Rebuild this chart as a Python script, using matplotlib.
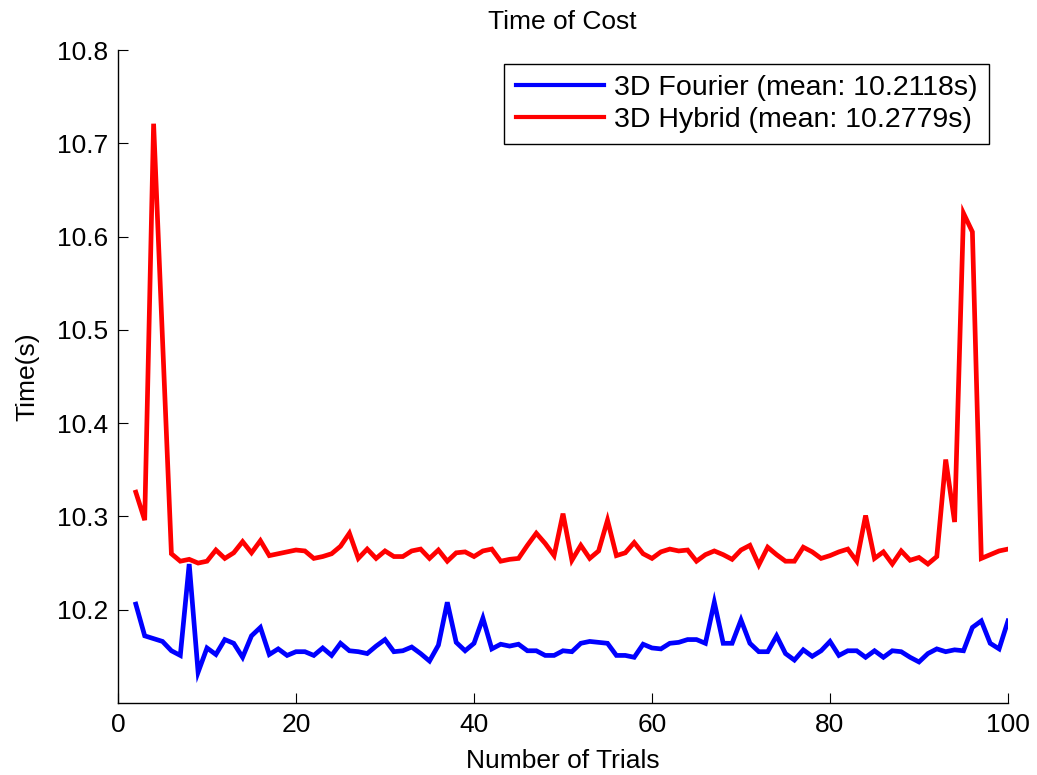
import matplotlib
matplotlib.use("Agg")
import matplotlib.pyplot as plt

plt.rcParams['font.family'] = ['Liberation Sans', 'DejaVu Sans']

trials = list(range(2, 101))

fourier = [
    10.206, 10.172, 10.169, 10.166, 10.156, 10.151, 10.249, 10.133, 10.159, 10.152,
    10.168, 10.164, 10.149, 10.172, 10.181, 10.152, 10.158, 10.151, 10.155, 10.155,
    10.151, 10.159, 10.151, 10.164, 10.156, 10.155, 10.153, 10.161, 10.168, 10.155,
    10.156, 10.160, 10.153, 10.145, 10.162, 10.208, 10.165, 10.156, 10.164, 10.191,
    10.158, 10.163, 10.161, 10.163, 10.156, 10.156, 10.151, 10.151, 10.156, 10.155,
    10.164, 10.166, 10.165, 10.164, 10.151, 10.151, 10.149, 10.163, 10.159, 10.158,
    10.164, 10.165, 10.168, 10.168, 10.164, 10.208, 10.164, 10.164, 10.189, 10.164,
    10.155, 10.155, 10.172, 10.153, 10.146, 10.157, 10.150, 10.156, 10.166, 10.151,
    10.156, 10.156, 10.149, 10.156, 10.149, 10.156, 10.155, 10.149, 10.144, 10.153,
    10.158, 10.155, 10.157, 10.156, 10.181, 10.188, 10.164, 10.158, 10.188,
]

hybrid = [
    10.326, 10.296, 10.721, 10.490, 10.260, 10.252, 10.254, 10.250, 10.252, 10.264,
    10.255, 10.261, 10.273, 10.261, 10.274, 10.258, 10.260, 10.262, 10.264, 10.263,
    10.255, 10.257, 10.260, 10.268, 10.282, 10.255, 10.265, 10.255, 10.263, 10.257,
    10.257, 10.263, 10.265, 10.255, 10.264, 10.252, 10.261, 10.262, 10.257, 10.263,
    10.265, 10.252, 10.254, 10.255, 10.269, 10.282, 10.271, 10.258, 10.303, 10.253,
    10.269, 10.255, 10.263, 10.296, 10.258, 10.261, 10.272, 10.260, 10.255, 10.262,
    10.265, 10.263, 10.264, 10.252, 10.259, 10.263, 10.259, 10.254, 10.264, 10.269,
    10.248, 10.267, 10.259, 10.252, 10.252, 10.267, 10.262, 10.255, 10.258, 10.262,
    10.265, 10.252, 10.301, 10.255, 10.262, 10.249, 10.263, 10.253, 10.256, 10.249,
    10.257, 10.361, 10.294, 10.625, 10.605, 10.255, 10.259, 10.263, 10.265,
]

labels = ["3D Fourier (mean: 10.2118s)", "3D Hybrid (mean: 10.2779s)"]
x_ticks = [0, 20, 40, 60, 80, 100]
y_ticks = [10.2, 10.3, 10.4, 10.5, 10.6, 10.7, 10.8]

W, H = 1037, 775
fig = plt.figure(figsize=(W / 100, H / 100), dpi=100)
ax = fig.add_axes([118 / W, 1 - 703 / H, (1008 - 118) / W, (703 - 50) / H])

fs = 19
ax.plot(trials, fourier, color="#0000ff", lw=3.4, label=labels[0], solid_joinstyle="miter")
ax.plot(trials, hybrid, color="#ff0000", lw=3.4, label=labels[1], solid_joinstyle="miter")

ax.set_xlim(0, 100)
ax.set_ylim(10.1, 10.8)
ax.set_xticks(x_ticks)
ax.set_yticks(y_ticks)
ax.set_xticklabels([str(v) for v in x_ticks])
ax.set_yticklabels([f"{v:.1f}" for v in y_ticks])
ax.spines["top"].set_visible(False)
ax.spines["right"].set_visible(False)
for s in ("left", "bottom"):
    ax.spines[s].set_linewidth(1.0)
ax.tick_params(direction="in", length=7, width=0.8, labelsize=fs, pad=7)

ax.set_xlabel("Number of Trials", fontsize=fs, labelpad=9)
ax.set_ylabel("Time(s)", fontsize=fs, labelpad=13)
fig.text(562 / W, 1 - 22 / H, "Time of Cost", fontsize=fs, ha="center", va="center")

leg = ax.legend(loc="upper right", bbox_to_anchor=(989 / W, 1 - 64 / H),
                bbox_transform=fig.transFigure, borderaxespad=0, fontsize=20.5,
                handlelength=3.1, handletextpad=0.35, borderpad=0.4,
                labelspacing=0.2, fancybox=False, framealpha=1)
leg.get_frame().set_edgecolor("black")
leg.get_frame().set_linewidth(1.0)
for line in leg.get_lines():
    line.set_linewidth(3.0)

fig.savefig("out.png", dpi=100)
